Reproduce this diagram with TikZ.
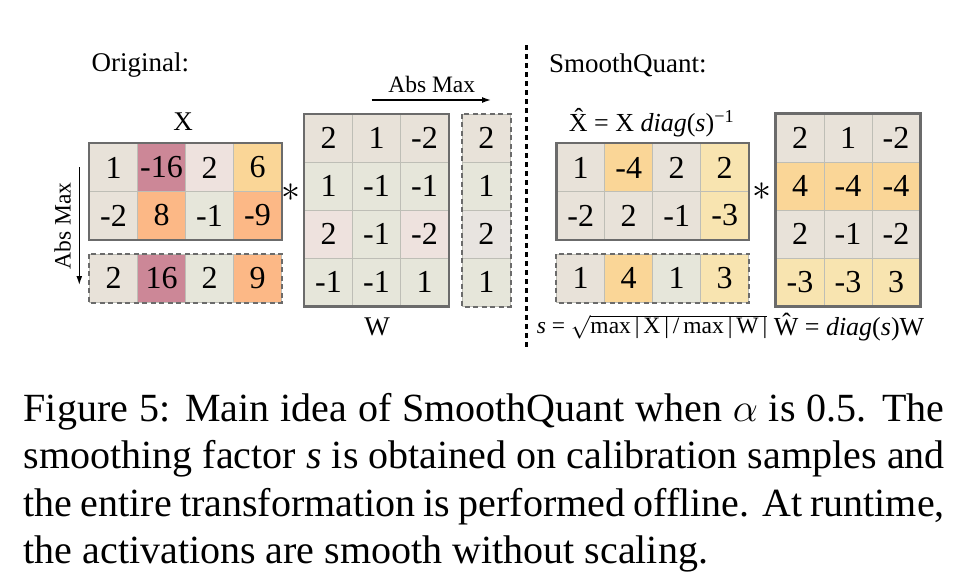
\documentclass[tikz,border=0pt]{standalone}
\usepackage{fix-cm}
\usepackage{fontspec}
\setmainfont{Liberation Serif}
\usetikzlibrary{arrows.meta}

\definecolor{cbeige}{HTML}{E8E2D9}
\definecolor{cmauve}{HTML}{CC8797}
\definecolor{cpink}{HTML}{EEE2DE}
\definecolor{cyellow}{HTML}{FAD697}
\definecolor{corange}{HTML}{FCB886}
\definecolor{cgreen}{HTML}{E6E6DA}
\definecolor{clight}{HTML}{F8E4B0}
\definecolor{cgray}{HTML}{E8E4E0}
\definecolor{gridgray}{HTML}{BEBEB6}
\definecolor{framegray}{HTML}{6B6B6B}

\tikzset{
  cell/.style={draw=gridgray, line width=0.8pt, minimum width=48pt, minimum height=48pt, inner sep=0pt, font=\fontsize{32}{32}\selectfont},
  outerline/.style={draw=framegray, line width=2.6pt},
  absbox/.style={draw=framegray, line width=2.2pt, dash pattern=on 5pt off 3.5pt},
  lbl/.style={font=\fontsize{27}{30}\selectfont, inner sep=0pt},
  formula/.style={font=\fontsize{26}{30}\selectfont, inner sep=0pt},
  absfont/.style={font=\fontsize{23.5}{26}\selectfont, inner sep=0pt},
  startext/.style={font=\fontsize{38}{38}\selectfont, inner sep=0pt},
}

\begin{document}
\begin{tikzpicture}[x=1pt, y=-1pt, >={Latex[length=9pt,width=6pt]}]
\useasboundingbox (0,0) rectangle (967,576);
\fill[white] (0,0) rectangle (967,576);

% original side
\path (91.5,65) node[lbl, anchor=west] (orig) {Original:};
\path (183,122) node[lbl] (xname) {X};
\foreach \v/\c [count=\i from 0] in {1/cbeige,-16/cmauve,2/cpink,6/cyellow,-2/cbeige,8/corange,-1/cgreen,-9/corange}
{
  \pgfmathtruncatemacro\ri{div(\i,4)+1}
  \pgfmathtruncatemacro\ci{mod(\i,4)+1}
  \path (65.5+48*\ci, 119.5+48*\ri) node[cell, fill=\c] (x\ri\ci) {\v};
}
\foreach \v/\c [count=\i] in {2/cbeige,16/cmauve,2/cgreen,9/corange}
  \path (65.5+48*\i, 278.4) node[cell, fill=\c] (ax\i) {\v};
\draw[outerline] (x11.north west) rectangle (x24.south east);
\draw[absbox] (ax1.north west) rectangle (ax4.south east);

\coordinate (vtop) at (79.3,167);
\coordinate (vbot) at (79.3,285);
\draw[->, line width=1.4pt] (vtop) -- (vbot);
\path (62.5,226) node[absfont, rotate=90] (vabs) {Abs Max};
\path (291,193) node[startext] (star1) {$\ast$};

\foreach \v/\c [count=\i from 0] in {2/cbeige,1/cbeige,-2/cbeige,1/cgreen,-1/cgreen,-1/cgreen,2/cpink,-1/cgreen,-2/cpink,-1/cgreen,-1/cgreen,1/cgreen}
{
  \pgfmathtruncatemacro\ri{div(\i,3)+1}
  \pgfmathtruncatemacro\ci{mod(\i,3)+1}
  \path (280.5+48*\ci, 90.3+48*\ri) node[cell, fill=\c] (w\ri\ci) {\v};
}
\foreach \v/\c [count=\i] in {2/cbeige,1/cgreen,2/cgray,1/cgreen}
  \path (486.4, 90.3+48*\i) node[cell, fill=\c] (aw\i) {\v};
\draw[outerline] (w11.north west) rectangle (w43.south east);
\draw[absbox] (aw1.north west) rectangle (aw4.south east);
\path (377,327) node[lbl] (wname) {W};

\coordinate (hleft) at (371.7,100);
\coordinate (hright) at (491,100);
\draw[->, line width=1.4pt] (hleft) -- (hright);
\path (431.7,84) node[absfont] (habs) {Abs Max};

% divider
\coordinate (dtop) at (526,45);
\coordinate (dbot) at (526,350);
\draw[line width=3pt, dash pattern=on 5pt off 4pt] (dtop) -- (dbot);

% smoothquant side
\path (549,65) node[lbl, anchor=west] (sq) {SmoothQuant:};
\path (651.5,123) node[formula] (xhname) {\^{X} = X \textit{diag}(\textit{s})\textsuperscript{−1}};
\foreach \v/\c [count=\i from 0] in {1/cbeige,-4/cyellow,2/cbeige,2/clight,-2/cbeige,2/cbeige,-1/cbeige,-3/clight}
{
  \pgfmathtruncatemacro\ri{div(\i,4)+1}
  \pgfmathtruncatemacro\ci{mod(\i,4)+1}
  \path (532.7+48*\ci, 119.5+48*\ri) node[cell, fill=\c] (xh\ri\ci) {\v};
}
\foreach \v/\c [count=\i] in {1/cbeige,4/cyellow,1/cgreen,3/clight}
  \path (532.7+48*\i, 278.4) node[cell, fill=\c] (s\i) {\v};
\draw[outerline] (xh11.north west) rectangle (xh24.south east);
\draw[absbox] (s1.north west) rectangle (s4.south east);
\path (761.5,192) node[startext] (star2) {$\ast$};

\foreach \v/\c [count=\i from 0] in {2/cbeige,1/cbeige,-2/cbeige,4/cyellow,-4/cyellow,-4/cyellow,2/cbeige,-1/cbeige,-2/cbeige,-3/clight,-3/clight,3/clight}
{
  \pgfmathtruncatemacro\ri{div(\i,3)+1}
  \pgfmathtruncatemacro\ci{mod(\i,3)+1}
  \path (752+48*\ci, 90+48*\ri) node[cell, fill=\c] (wh\ri\ci) {\v};
}
\draw[outerline] (wh11.north west) rectangle (wh43.south east);

\path (652,327) node[formula, font=\fontsize{23.5}{28}\selectfont] (sform) {\textit{s} = $\sqrt{\mbox{max\,|\,X\,|\,/\,max\,|\,W\,|}}$};
\path (849,327) node[formula] (whname) {\^{W} = \textit{diag}(\textit{s})W};

% caption
\path (23.5,421) node[anchor=base west, inner sep=0pt, text width=921pt, align=justify, font=\fontsize{40}{47.5}\selectfont] (cap)
  {Figure 5: Main idea of SmoothQuant when $\alpha$ is 0.5. The\linebreak
   smoothing factor \textit{s} is obtained on calibration samples and\linebreak
   the entire transformation is performed offline. At runtime,\linebreak
   the activations are smooth without scaling.};
\end{tikzpicture}
\end{document}
